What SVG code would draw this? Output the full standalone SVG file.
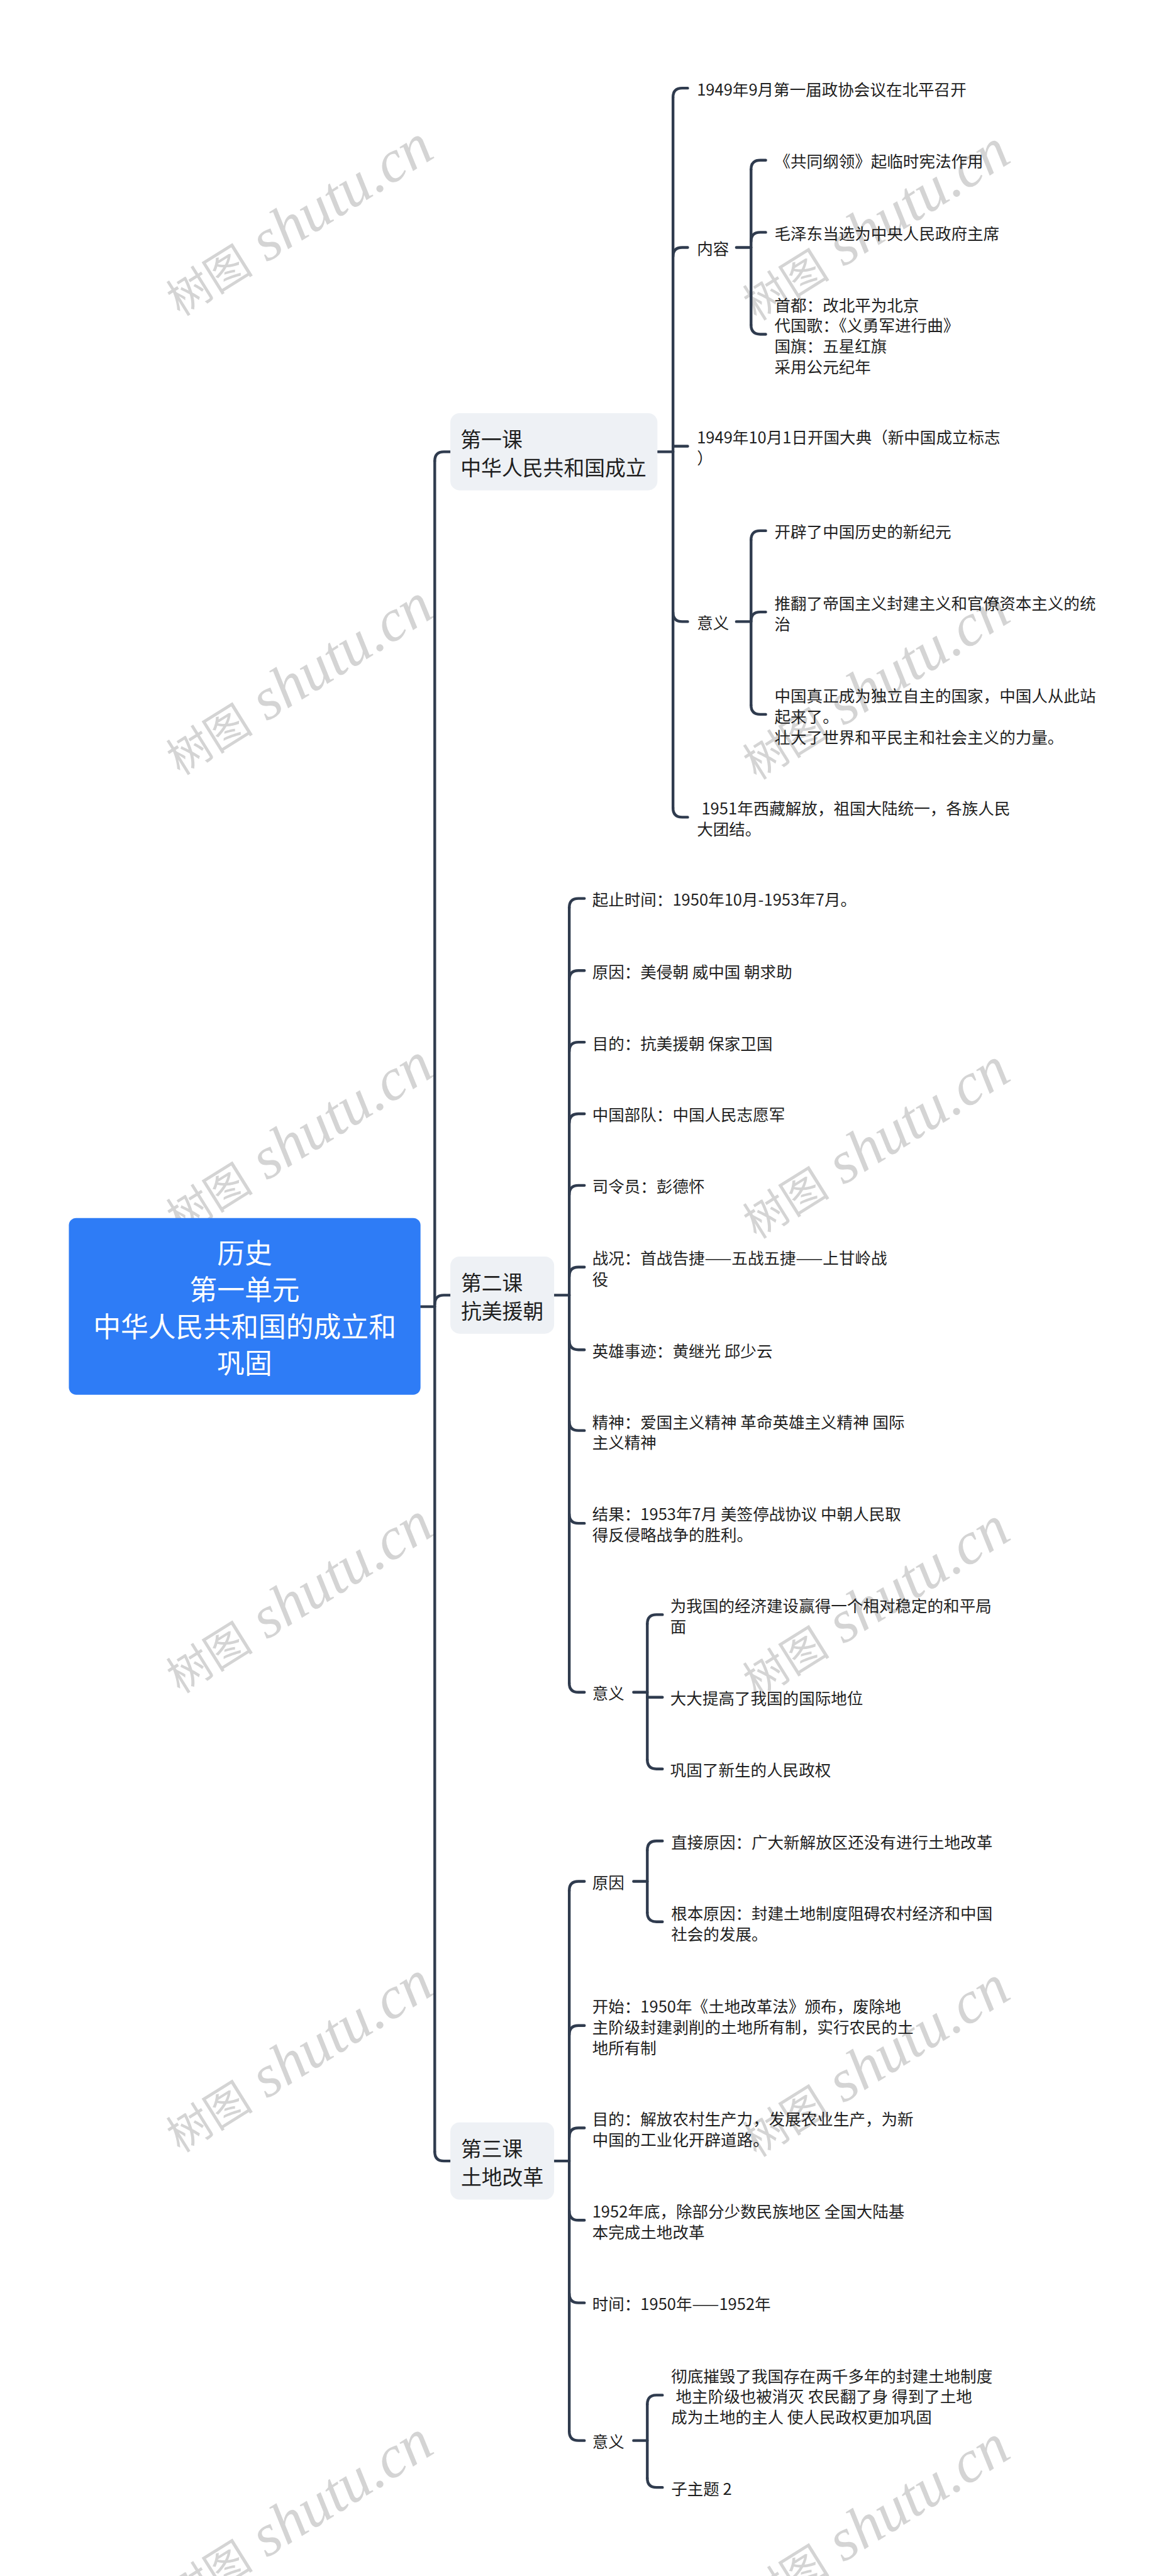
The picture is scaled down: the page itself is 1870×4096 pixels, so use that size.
<svg xmlns="http://www.w3.org/2000/svg" width="1870" height="4096" viewBox="0 0 1870 4096">
<style>
.conn{fill:none;stroke:#2f3b4e;stroke-width:6;stroke-linecap:round}
.t{font-family:"Noto Sans CJK SC","Noto Sans",sans-serif;font-size:35px;fill:#1f1f1f;dominant-baseline:central}
.l1{font-size:45px}
.rt{font-family:"Noto Sans CJK SC","Noto Sans",sans-serif;font-size:60px;fill:#ffffff;text-anchor:middle;dominant-baseline:central}
.wm{fill:#d4d4d4}
.wmc{font-family:"Noto Sans CJK SC",serif;font-size:95px}
.wml{font-family:"Liberation Serif",serif;font-style:italic;font-size:130px}
.box1{fill:#eef1f5}
</style>
<rect x="0" y="0" width="1870" height="4096" fill="#ffffff"/>
<g transform="scale(0.73)">
<g id="watermarks" class="wm">
<text transform="translate(392,690) rotate(-32)"><tspan class="wmc">树图</tspan><tspan class="wml"> shutu.cn</tspan></text>
<text transform="translate(1648,700) rotate(-32)"><tspan class="wmc">树图</tspan><tspan class="wml"> shutu.cn</tspan></text>
<text transform="translate(392,1690) rotate(-32)"><tspan class="wmc">树图</tspan><tspan class="wml"> shutu.cn</tspan></text>
<text transform="translate(1648,1700) rotate(-32)"><tspan class="wmc">树图</tspan><tspan class="wml"> shutu.cn</tspan></text>
<text transform="translate(392,2690) rotate(-32)"><tspan class="wmc">树图</tspan><tspan class="wml"> shutu.cn</tspan></text>
<text transform="translate(1648,2700) rotate(-32)"><tspan class="wmc">树图</tspan><tspan class="wml"> shutu.cn</tspan></text>
<text transform="translate(392,3690) rotate(-32)"><tspan class="wmc">树图</tspan><tspan class="wml"> shutu.cn</tspan></text>
<text transform="translate(1648,3700) rotate(-32)"><tspan class="wmc">树图</tspan><tspan class="wml"> shutu.cn</tspan></text>
<text transform="translate(392,4690) rotate(-32)"><tspan class="wmc">树图</tspan><tspan class="wml"> shutu.cn</tspan></text>
<text transform="translate(1648,4700) rotate(-32)"><tspan class="wmc">树图</tspan><tspan class="wml"> shutu.cn</tspan></text>
<text transform="translate(392,5690) rotate(-32)"><tspan class="wmc">树图</tspan><tspan class="wml"> shutu.cn</tspan></text>
<text transform="translate(1648,5700) rotate(-32)"><tspan class="wmc">树图</tspan><tspan class="wml"> shutu.cn</tspan></text>
</g>
<g id="connectors" class="conn">
<path d="M916,2846 L947,2846"/>
<path d="M947,1004 L947,4687"/>
<path d="M947,1004 Q947,984 967,984 L981,984"/>
<path d="M947,2841 Q947,2821 967,2821 L981,2821"/>
<path d="M947,4687 Q947,4707 967,4707 L981,4707"/>
<path d="M1432,984 L1466,984"/>
<path d="M1466,212 L1466,1760"/>
<path d="M1466,212 Q1466,192 1486,192 L1498,192"/>
<path d="M1466,559 Q1466,539 1486,539 L1498,539"/>
<path d="M1466,972 L1498,972"/>
<path d="M1466,1334 Q1466,1354 1486,1354 L1498,1354"/>
<path d="M1466,1760 Q1466,1780 1486,1780 L1498,1780"/>
<path d="M1604,539 L1636,539"/>
<path d="M1636,369 L1636,708"/>
<path d="M1636,369 Q1636,349 1656,349 L1668,349"/>
<path d="M1636,526 Q1636,506 1656,506 L1668,506"/>
<path d="M1636,708 Q1636,728 1656,728 L1668,728"/>
<path d="M1604,1354 L1636,1354"/>
<path d="M1636,1176 L1636,1536"/>
<path d="M1636,1176 Q1636,1156 1656,1156 L1668,1156"/>
<path d="M1636,1353 Q1636,1333 1656,1333 L1668,1333"/>
<path d="M1636,1536 Q1636,1556 1656,1556 L1668,1556"/>
<path d="M1207,2821 L1240,2821"/>
<path d="M1240,1977 L1240,3666"/>
<path d="M1240,1977 Q1240,1957 1260,1957 L1273,1957"/>
<path d="M1240,2134 Q1240,2114 1260,2114 L1273,2114"/>
<path d="M1240,2290 Q1240,2270 1260,2270 L1273,2270"/>
<path d="M1240,2446 Q1240,2426 1260,2426 L1273,2426"/>
<path d="M1240,2602 Q1240,2582 1260,2582 L1273,2582"/>
<path d="M1240,2780 Q1240,2760 1260,2760 L1273,2760"/>
<path d="M1240,2920 Q1240,2940 1260,2940 L1273,2940"/>
<path d="M1240,3096 Q1240,3116 1260,3116 L1273,3116"/>
<path d="M1240,3298 Q1240,3318 1260,3318 L1273,3318"/>
<path d="M1240,3666 Q1240,3686 1260,3686 L1273,3686"/>
<path d="M1380,3686 L1410,3686"/>
<path d="M1410,3537 L1410,3833"/>
<path d="M1410,3537 Q1410,3517 1430,3517 L1443,3517"/>
<path d="M1410,3697 L1443,3697"/>
<path d="M1410,3833 Q1410,3853 1430,3853 L1443,3853"/>
<path d="M1207,4707 L1240,4707"/>
<path d="M1240,4118 L1240,5296"/>
<path d="M1240,4118 Q1240,4098 1260,4098 L1273,4098"/>
<path d="M1240,4432 Q1240,4412 1260,4412 L1273,4412"/>
<path d="M1240,4655 Q1240,4635 1260,4635 L1273,4635"/>
<path d="M1240,4816 Q1240,4836 1260,4836 L1273,4836"/>
<path d="M1240,4996 Q1240,5016 1260,5016 L1273,5016"/>
<path d="M1240,5296 Q1240,5316 1260,5316 L1273,5316"/>
<path d="M1380,4098 L1410,4098"/>
<path d="M1410,4030 L1410,4166"/>
<path d="M1410,4030 Q1410,4010 1430,4010 L1443,4010"/>
<path d="M1410,4166 Q1410,4186 1430,4186 L1443,4186"/>
<path d="M1380,5316 L1410,5316"/>
<path d="M1410,5237 L1410,5398"/>
<path d="M1410,5237 Q1410,5217 1430,5217 L1443,5217"/>
<path d="M1410,5398 Q1410,5418 1430,5418 L1443,5418"/>
</g>
<g id="root">
<rect x="150" y="2653" width="766" height="385" rx="16" fill="#2e7cf6"/>
<text class="rt"><tspan x="533" y="2726">历史</tspan><tspan x="533" y="2806">第一单元</tspan><tspan x="533" y="2886">中华人民共和国的成立和</tspan><tspan x="533" y="2966">巩固</tspan></text>
</g>
<g id="lesson1">
<rect class="box1" x="981" y="900" width="451" height="168" rx="20"/>
<text class="t l1"><tspan x="1003" y="954">第一课</tspan><tspan x="1003" y="1015">中华人民共和国成立</tspan></text>
</g>
<g id="l1-a"><text class="t" x="1518" y="192">1949年9月第一届政协会议在北平召开</text></g>
<g id="l1-content"><text class="t" x="1518" y="539">内容</text></g>
<g id="l1-content-1"><text class="t" x="1687" y="349">《共同纲领》起临时宪法作用</text></g>
<g id="l1-content-2"><text class="t" x="1687" y="506">毛泽东当选为中央人民政府主席</text></g>
<g id="l1-content-3"><text class="t"><tspan x="1687" y="661">首都：改北平为北京</tspan><tspan x="1687" y="706">代国歌：《义勇军进行曲》</tspan><tspan x="1687" y="751">国旗：五星红旗</tspan><tspan x="1687" y="796">采用公元纪年</tspan></text></g>
<g id="l1-b"><text class="t"><tspan x="1518" y="949">1949年10月1日开国大典（新中国成立标志</tspan><tspan x="1518" y="995">）</tspan></text></g>
<g id="l1-meaning"><text class="t" x="1518" y="1354">意义</text></g>
<g id="l1-meaning-1"><text class="t" x="1687" y="1156">开辟了中国历史的新纪元</text></g>
<g id="l1-meaning-2"><text class="t"><tspan x="1687" y="1311">推翻了帝国主义封建主义和官僚资本主义的统</tspan><tspan x="1687" y="1356">治</tspan></text></g>
<g id="l1-meaning-3"><text class="t"><tspan x="1687" y="1513">中国真正成为独立自主的国家，中国人从此站</tspan><tspan x="1687" y="1558">起来了。</tspan><tspan x="1687" y="1603">壮大了世界和平民主和社会主义的力量。</tspan></text></g>
<g id="l1-c"><text class="t"><tspan x="1528" y="1757">1951年西藏解放，祖国大陆统一，各族人民</tspan><tspan x="1518" y="1803">大团结。</tspan></text></g>
<g id="lesson2">
<rect class="box1" x="981" y="2737" width="226" height="168" rx="20"/>
<text class="t l1"><tspan x="1004" y="2791">第二课</tspan><tspan x="1004" y="2852">抗美援朝</tspan></text>
</g>
<g id="l2-1"><text class="t" x="1290" y="1957">起止时间：1950年10月-1953年7月。</text></g>
<g id="l2-2"><text class="t" x="1290" y="2114">原因：美侵朝 威中国 朝求助</text></g>
<g id="l2-3"><text class="t" x="1290" y="2270">目的：抗美援朝 保家卫国</text></g>
<g id="l2-4"><text class="t" x="1290" y="2426">中国部队：中国人民志愿军</text></g>
<g id="l2-5"><text class="t" x="1290" y="2582">司令员：彭德怀</text></g>
<g id="l2-6"><text class="t"><tspan x="1290" y="2737">战况：首战告捷——五战五捷——上甘岭战</tspan><tspan x="1290" y="2783">役</tspan></text></g>
<g id="l2-7"><text class="t" x="1290" y="2940">英雄事迹：黄继光 邱少云</text></g>
<g id="l2-8"><text class="t"><tspan x="1290" y="3094">精神：爱国主义精神 革命英雄主义精神 国际</tspan><tspan x="1290" y="3139">主义精神</tspan></text></g>
<g id="l2-9"><text class="t"><tspan x="1290" y="3295">结果：1953年7月 美签停战协议 中朝人民取</tspan><tspan x="1290" y="3340">得反侵略战争的胜利。</tspan></text></g>
<g id="l2-meaning"><text class="t" x="1290" y="3686">意义</text></g>
<g id="l2-meaning-1"><text class="t"><tspan x="1460" y="3495">为我国的经济建设赢得一个相对稳定的和平局</tspan><tspan x="1460" y="3540">面</tspan></text></g>
<g id="l2-meaning-2"><text class="t" x="1460" y="3697">大大提高了我国的国际地位</text></g>
<g id="l2-meaning-3"><text class="t" x="1460" y="3853">巩固了新生的人民政权</text></g>
<g id="lesson3">
<rect class="box1" x="981" y="4623" width="226" height="168" rx="20"/>
<text class="t l1"><tspan x="1004" y="4677">第三课</tspan><tspan x="1004" y="4738">土地改革</tspan></text>
</g>
<g id="l3-cause"><text class="t" x="1290" y="4098">原因</text></g>
<g id="l3-cause-1"><text class="t" x="1462" y="4010">直接原因：广大新解放区还没有进行土地改革</text></g>
<g id="l3-cause-2"><text class="t"><tspan x="1462" y="4164">根本原因：封建土地制度阻碍农村经济和中国</tspan><tspan x="1462" y="4209">社会的发展。</tspan></text></g>
<g id="l3-2"><text class="t"><tspan x="1290" y="4367">开始：1950年《土地改革法》颁布，废除地</tspan><tspan x="1290" y="4412">主阶级封建剥削的土地所有制，实行农民的土</tspan><tspan x="1290" y="4457">地所有制</tspan></text></g>
<g id="l3-3"><text class="t"><tspan x="1290" y="4613">目的：解放农村生产力，发展农业生产，为新</tspan><tspan x="1290" y="4658">中国的工业化开辟道路。</tspan></text></g>
<g id="l3-4"><text class="t"><tspan x="1290" y="4814">1952年底，除部分少数民族地区 全国大陆基</tspan><tspan x="1290" y="4859">本完成土地改革</tspan></text></g>
<g id="l3-5"><text class="t" x="1290" y="5016">时间：1950年——1952年</text></g>
<g id="l3-meaning"><text class="t" x="1290" y="5316">意义</text></g>
<g id="l3-meaning-1"><text class="t"><tspan x="1462" y="5172">彻底摧毁了我国存在两千多年的封建土地制度</tspan><tspan x="1472" y="5217">地主阶级也被消灭 农民翻了身 得到了土地</tspan><tspan x="1462" y="5262">成为土地的主人 使人民政权更加巩固</tspan></text></g>
<g id="l3-meaning-2"><text class="t" x="1462" y="5418">子主题 2</text></g>
</g>
</svg>
